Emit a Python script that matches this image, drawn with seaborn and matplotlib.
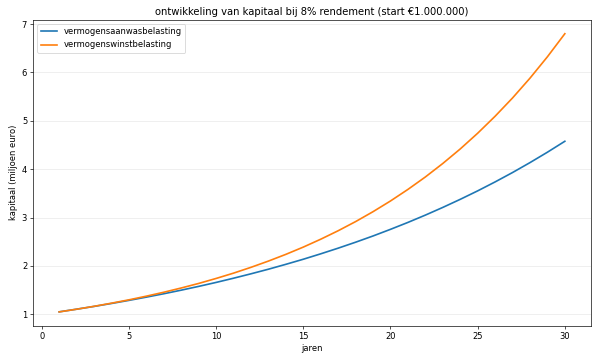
import matplotlib
matplotlib.use('Agg')
import matplotlib.pyplot as plt
import pandas as pd
import seaborn as sns

# jaren en kapitaal (miljoen euro)
jaren = list(range(1, 31))
aanwas = [1.052, 1.107, 1.164, 1.225, 1.289, 1.356, 1.426, 1.500, 1.578, 1.660,
          1.747, 1.838, 1.933, 2.034, 2.139, 2.251, 2.368, 2.491, 2.620, 2.757,
          2.900, 3.051, 3.210, 3.377, 3.552, 3.737, 3.931, 4.136, 4.351, 4.577]
winst = [1.051, 1.106, 1.166, 1.231, 1.300, 1.376, 1.457, 1.545, 1.639, 1.742,
         1.852, 1.972, 2.101, 2.240, 2.390, 2.553, 2.728, 2.917, 3.122, 3.343,
         3.582, 3.839, 4.118, 4.418, 4.743, 5.094, 5.472, 5.881, 6.323, 6.800]
labels = ['vermogensaanwasbelasting', 'vermogenswinstbelasting']

df = pd.DataFrame({
    'jaar': jaren * 2,
    'kapitaal': aanwas + winst,
    'regime': [labels[0]] * len(jaren) + [labels[1]] * len(jaren),
})

fig, ax = plt.subplots(figsize=(10, 6), dpi=60)
sns.lineplot(data=df, x='jaar', y='kapitaal', hue='regime', ax=ax,
             palette=['#1f77b4', '#ff7f0e'], linewidth=2)
ax.set_title('ontwikkeling van kapitaal bij 8% rendement (start €1.000.000)')
ax.set_xlabel('jaren')
ax.set_ylabel('kapitaal (miljoen euro)')
ax.grid(True, axis='y', alpha=0.3)
ax.legend(title=None, loc='upper left')
ax.set_xlim(-0.5, 31.5)
fig.subplots_adjust(left=0.055, right=0.985, top=0.945, bottom=0.095)
fig.savefig('out.png', dpi=60)
plt.close(fig)
